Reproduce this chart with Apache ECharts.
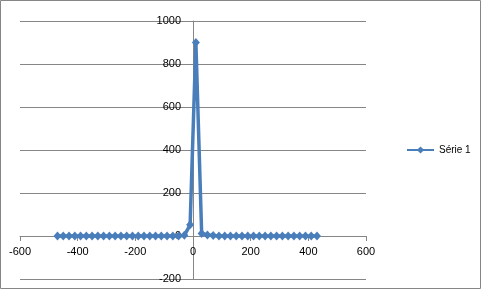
<!DOCTYPE html>
<html>
<head>
<meta charset="utf-8">
<script src="https://cdn.jsdelivr.net/npm/echarts@6/dist/echarts.min.js"></script>
<style>
html,body{margin:0;padding:0;background:#fff;}
#chart{width:481px;height:289px;}
</style>
</head>
<body>
<div id="chart"></div>
<script>
var seriesName = 'Série 1';
var xValues = [-470,-450,-430,-410,-390,-370,-350,-330,-310,-290,-270,-250,-230,-210,-190,-170,-150,-130,-110,-90,-70,-50,-30,-10,10,30,50,70,90,110,130,150,170,190,210,230,250,270,290,310,330,350,370,390,410,430];
var yValues = [0,0,0,0,0,0,0,0,0,0,0,0,0,0,0,0,0,0,0,0,0,0,3,52,900,12,5,2,0,0,0,0,0,0,0,0,0,0,0,0,0,0,0,0,0,0];
var xTicks = {min:-600, max:600, interval:200};
var yTicks = {min:-200, max:1000, interval:200};

var points = xValues.map(function(x, i){ return [x, yValues[i]]; });
var grey = '#868686';
var plain = function(v){ return String(v); };
var G = {left:20, right:115, top:21, bottom:10};
var plotW = 481 - G.left - G.right, plotH = 289 - G.top - G.bottom;
// place each axis where the other axis crosses zero
var xOffset = -plotH * (0 - yTicks.min) / (yTicks.max - yTicks.min);
var yOffset = -plotW * (0 - xTicks.min) / (xTicks.max - xTicks.min);
var chart = echarts.init(document.getElementById('chart'), null, {renderer:'canvas'});
chart.setOption({
  animation:false,
  backgroundColor:'#fff',
  textStyle:{fontFamily:'Liberation Sans'},
  graphic:[{type:'rect', shape:{x:0.5,y:0.5,width:480,height:288}, style:{fill:'none', stroke:grey, lineWidth:1}, z:-1}],
  grid:{left:G.left, right:G.right, top:G.top, bottom:G.bottom, containLabel:false, outerBoundsMode:'none'},
  legend:{
    data:[seriesName], orient:'vertical', left:401, top:140,
    itemWidth:27, itemHeight:9, itemGap:4,
    textStyle:{fontSize:10, color:'#000', fontFamily:'Liberation Sans'}
  },
  xAxis:{
    type:'value', min:xTicks.min, max:xTicks.max, interval:xTicks.interval,
    position:'bottom', offset:xOffset,
    axisLine:{show:true, onZero:false, lineStyle:{color:grey, width:1}},
    axisTick:{show:true, length:5, lineStyle:{color:grey}},
    axisLabel:{color:'#000', fontSize:11, margin:10, formatter:plain},
    splitLine:{show:false}
  },
  yAxis:{
    type:'value', min:yTicks.min, max:yTicks.max, interval:yTicks.interval,
    position:'left', offset:yOffset,
    axisLine:{show:true, onZero:false, lineStyle:{color:grey, width:1}},
    axisTick:{show:true, length:5, lineStyle:{color:grey}},
    axisLabel:{color:'#000', fontSize:11, margin:12, formatter:plain},
    splitLine:{show:true, lineStyle:{color:grey, width:1}}
  },
  series:[{
    name:seriesName, type:'line', data:points,
    symbol:'diamond', symbolSize:[8,9], showAllSymbol:true,
    itemStyle:{color:'#4a7ebb'},
    lineStyle:{color:'#4a7ebb', width:3.5}
  }]
});
</script>
</body>
</html>
